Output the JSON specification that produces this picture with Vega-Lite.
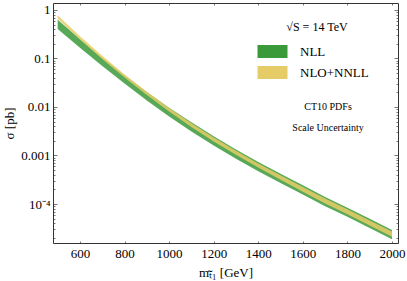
{
  "$schema": "https://vega.github.io/schema/vega-lite/v6.json",
  "width": 345,
  "height": 240,
  "autosize": {"type": "none"},
  "padding": {"left": 53, "top": 3, "right": 9, "bottom": 38},
  "background": "white",
  "config": {
    "view": {"stroke": null},
    "axis": {"labelFont": "Liberation Serif", "titleFont": "Liberation Serif", "labelFontSize": 13, "titleFontSize": 13, "titleFontWeight": "normal", "labelColor": "#000", "titleColor": "#000", "domainColor": "#333", "tickColor": "#777", "grid": false},
    "text": {"font": "Liberation Serif"}
  },
  "data": {"values": [
    {"m": 500, "series": "NLL", "lo": 0.4074, "hi": 0.6313},
    {"m": 600, "series": "NLL", "lo": 0.1660, "hi": 0.2512},
    {"m": 700, "series": "NLL", "lo": 0.06998, "hi": 0.1040},
    {"m": 800, "series": "NLL", "lo": 0.03055, "hi": 0.04489},
    {"m": 900, "series": "NLL", "lo": 0.01365, "hi": 0.02040},
    {"m": 1000, "series": "NLL", "lo": 0.006383, "hi": 0.009672},
    {"m": 1100, "series": "NLL", "lo": 0.003126, "hi": 0.004842},
    {"m": 1200, "series": "NLL", "lo": 0.001603, "hi": 0.002483},
    {"m": 1300, "series": "NLL", "lo": 0.000861, "hi": 0.001334},
    {"m": 1400, "series": "NLL", "lo": 0.0004732, "hi": 0.0007328},
    {"m": 1500, "series": "NLL", "lo": 0.0002723, "hi": 0.0004217},
    {"m": 1600, "series": "NLL", "lo": 0.0001567, "hi": 0.0002427},
    {"m": 1700, "series": "NLL", "lo": 0.00009016, "hi": 0.0001396},
    {"m": 1800, "series": "NLL", "lo": 0.00005433, "hi": 0.00008414},
    {"m": 1900, "series": "NLL", "lo": 0.00003199, "hi": 0.00004955},
    {"m": 2000, "series": "NLL", "lo": 0.00001884, "hi": 0.00002917},
    {"m": 500, "series": "NLO+NNLL", "lo": 0.6607, "hi": 0.7762},
    {"m": 600, "series": "NLO+NNLL", "lo": 0.2470, "hi": 0.2884},
    {"m": 700, "series": "NLO+NNLL", "lo": 0.09723, "hi": 0.1135},
    {"m": 800, "series": "NLO+NNLL", "lo": 0.04060, "hi": 0.04690},
    {"m": 900, "series": "NLO+NNLL", "lo": 0.01774, "hi": 0.02067},
    {"m": 1000, "series": "NLO+NNLL", "lo": 0.008120, "hi": 0.009545},
    {"m": 1100, "series": "NLO+NNLL", "lo": 0.003890, "hi": 0.004634},
    {"m": 1200, "series": "NLO+NNLL", "lo": 0.001952, "hi": 0.002356},
    {"m": 1300, "series": "NLO+NNLL", "lo": 0.001035, "hi": 0.001254},
    {"m": 1400, "series": "NLO+NNLL", "lo": 0.0005636, "hi": 0.0006862},
    {"m": 1500, "series": "NLO+NNLL", "lo": 0.0003173, "hi": 0.0003915},
    {"m": 1600, "series": "NLO+NNLL", "lo": 0.0001786, "hi": 0.0002243},
    {"m": 1700, "series": "NLO+NNLL", "lo": 0.0001019, "hi": 0.0001291},
    {"m": 1800, "series": "NLO+NNLL", "lo": 0.00006111, "hi": 0.00007778},
    {"m": 1900, "series": "NLO+NNLL", "lo": 0.00003584, "hi": 0.00004579},
    {"m": 2000, "series": "NLO+NNLL", "lo": 0.00002101, "hi": 0.00002697}
  ]},
  "resolve": {"axis": {"x": "independent", "y": "independent"}},
  "layer": [
    {
      "mark": {"type": "area", "opacity": 0.85},
      "encoding": {
        "x": {"field": "m", "type": "quantitative", "scale": {"domain": [479, 2027], "nice": false, "zero": false},
          "axis": {"values": [600, 800, 1000, 1200, 1400, 1600, 1800, 2000], "format": "d", "tickSize": -2, "labelPadding": 6, "title": "mₜ̃₁ [GeV]", "titlePadding": 6, "labelFlush": false}},
        "y": {"field": "lo", "type": "quantitative", "scale": {"type": "log", "domain": [0.0000157, 1.394], "nice": false},
          "axis": {"values": [0.00002, 0.00003, 0.00004, 0.00005, 0.00006, 0.00007, 0.00008, 0.00009, 0.0001, 0.0002, 0.0003, 0.0004, 0.0005, 0.0006, 0.0007, 0.0008, 0.0009, 0.001, 0.002, 0.003, 0.004, 0.005, 0.006, 0.007, 0.008, 0.009, 0.01, 0.02, 0.03, 0.04, 0.05, 0.06, 0.07, 0.08, 0.09, 0.1, 0.2, 0.3, 0.4, 0.5, 0.6, 0.7, 0.8, 0.9, 1],
            "labelExpr": "datum.value === 1 ? '1' : datum.value === 0.1 ? '0.1' : datum.value === 0.01 ? '0.01' : datum.value === 0.001 ? '0.001' : datum.value === 0.0001 ? '10⁻⁴' : ''",
            "tickSize": {"condition": {"test": "indexof([1, 0.1, 0.01, 0.001, 0.0001], datum.value) >= 0", "value": -4}, "value": -2},
            "labelPadding": 7, "title": "σ [pb]", "titlePadding": 4, "labelFlush": false}},
        "y2": {"field": "hi"},
        "color": {"field": "series", "type": "nominal", "scale": {"domain": ["NLL", "NLO+NNLL"], "range": ["#3a9a3a", "#e6cc66"]},
          "legend": {"orient": "none", "legendX": 212, "legendY": 19, "title": "√S = 14 TeV", "titleFont": "Liberation Serif", "titleFontSize": 12, "titleFontWeight": "normal", "titleAnchor": "middle", "titleColor": "#000", "titlePadding": 10, "labelFont": "Liberation Serif", "labelFontSize": 13, "labelColor": "#000", "symbolType": "M-2,-0.87H2V0.87H-2Z", "symbolSize": 225, "symbolOpacity": 1, "symbolStrokeWidth": 0, "labelOffset": 20, "rowPadding": 6, "padding": 0}}
      }
    },
    {
      "mark": {"type": "area", "opacity": 0},
      "encoding": {
        "x": {"field": "m", "type": "quantitative", "axis": {"orient": "top", "values": [600, 800, 1000, 1200, 1400, 1600, 1800, 2000], "tickSize": -2, "labels": false, "title": null}},
        "y": {"field": "lo", "type": "quantitative",
          "axis": {"orient": "right", "values": [0.00002, 0.00003, 0.00004, 0.00005, 0.00006, 0.00007, 0.00008, 0.00009, 0.0001, 0.0002, 0.0003, 0.0004, 0.0005, 0.0006, 0.0007, 0.0008, 0.0009, 0.001, 0.002, 0.003, 0.004, 0.005, 0.006, 0.007, 0.008, 0.009, 0.01, 0.02, 0.03, 0.04, 0.05, 0.06, 0.07, 0.08, 0.09, 0.1, 0.2, 0.3, 0.4, 0.5, 0.6, 0.7, 0.8, 0.9, 1],
            "tickSize": {"condition": {"test": "indexof([1, 0.1, 0.01, 0.001, 0.0001], datum.value) >= 0", "value": -4}, "value": -2},
            "labels": false, "title": null}},
        "y2": {"field": "hi"}
      }
    },
    {
      "data": {"values": [{"note": "CT10 PDFs"}]},
      "mark": {"type": "text", "fontSize": 10, "align": "center", "baseline": "middle", "color": "#000"},
      "encoding": {
        "x": {"datum": 1713, "type": "quantitative", "axis": null},
        "y": {"datum": 0.01, "type": "quantitative", "axis": null},
        "text": {"field": "note"}
      }
    },
    {
      "data": {"values": [{"note": "Scale Uncertainty"}]},
      "mark": {"type": "text", "fontSize": 10, "align": "center", "baseline": "middle", "color": "#000"},
      "encoding": {
        "x": {"datum": 1713, "type": "quantitative", "axis": null},
        "y": {"datum": 0.00369, "type": "quantitative", "axis": null},
        "text": {"field": "note"}
      }
    }
  ]
}
